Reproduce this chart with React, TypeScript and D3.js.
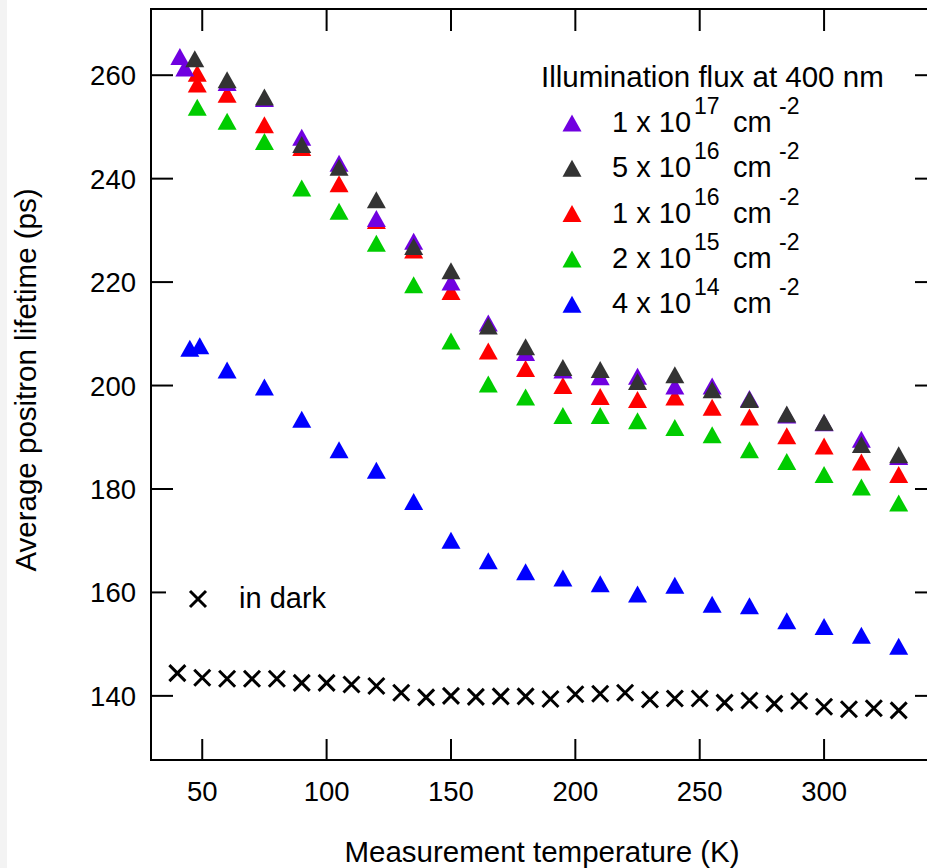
import React from 'react';
import * as d3 from 'd3';

// temperatures (K) shared by most illuminated series
const tStep = [60, 75, 90, 105, 120, 135, 150, 165, 180, 195, 210, 225, 240, 255, 270, 285, 300, 315, 330];

const purpleTemps = [41, 43, ...tStep];
const purpleVals = [263.6, 261.4, 258.6, 255.5, 248.0, 243.0, 232.3, 227.9, 220.0, 212.1, 206.4, 203.0, 201.7, 201.8, 199.9, 199.9, 197.5, 194.3, 192.8, 189.6, 186.3];

const blackTemps = [47, ...tStep];
const blackVals = [263.2, 259.1, 255.8, 246.6, 242.2, 235.9, 226.9, 222.2, 211.5, 207.5, 203.5, 203.1, 200.8, 202.1, 199.2, 197.3, 194.5, 192.9, 188.6, 186.6];

const redTemps = [48, 48, ...tStep];
const redVals = [260.4, 258.3, 256.3, 250.4, 246.0, 239.0, 231.9, 226.2, 218.2, 206.7, 203.3, 200.0, 197.9, 197.3, 197.8, 195.8, 193.9, 190.3, 188.3, 185.2, 182.8];

const greenTemps = [48, ...tStep];
const greenVals = [253.8, 251.1, 247.2, 238.2, 233.7, 227.5, 219.5, 208.6, 200.3, 197.8, 194.2, 194.2, 193.2, 191.9, 190.5, 187.6, 185.3, 182.8, 180.4, 177.3];

const blueTemps = [45, 49, ...tStep];
const blueVals = [207.2, 207.7, 203.0, 199.7, 193.5, 187.6, 183.6, 177.6, 170.1, 166.1, 164.0, 162.8, 161.7, 159.7, 161.4, 157.7, 157.4, 154.5, 153.4, 151.7, 149.6];

const darkTemps = [40, 50, 60, 70, 80, 90, 100, 110, 120, 130, 140, 150, 160, 170, 180, 190, 200, 210, 220, 230, 240, 250, 260, 270, 280, 290, 300, 310, 320, 330];
const darkVals = [144.4, 143.5, 143.3, 143.3, 143.3, 142.5, 142.5, 142.2, 141.9, 140.6, 139.7, 140.0, 139.8, 139.9, 139.9, 139.4, 140.3, 140.4, 140.6, 139.3, 139.5, 139.5, 138.7, 139.1, 138.5, 139.0, 137.9, 137.4, 137.6, 137.2];

// legend entries (in legend order)
const fluxMantissa = ['1', '5', '1', '2', '4'];
const fluxExponent = ['17', '16', '16', '15', '14'];
const fluxColors = ['#7000e0', '#333333', '#ff0000', '#00cc00', '#0000ff'];

const xTicks = [50, 100, 150, 200, 250, 300];
const yTicks = [140, 160, 180, 200, 220, 240, 260];

const W = 927;
const H = 868;
const font = '"Liberation Sans", Arial, sans-serif';

const tri = 'M0,-8.5L9.5,8.5L-9.5,8.5Z';

export default function App() {
  const x = d3.scaleLinear().domain([29.4, 345.4]).range([151, 937]);
  const y = d3.scaleLinear().domain([127.6, 272.8]).range([760, 9]);
  const [x0, x1] = x.range();
  const [y0, y1] = y.range();

  // drawing order: later on top
  const series = [
    { t: blueTemps, v: blueVals, c: fluxColors[4] },
    { t: greenTemps, v: greenVals, c: fluxColors[3] },
    { t: redTemps, v: redVals, c: fluxColors[2] },
    { t: purpleTemps, v: purpleVals, c: fluxColors[0] },
    { t: blackTemps, v: blackVals, c: fluxColors[1] },
  ];

  const cross = (cx: number, cy: number, key: string | number) => (
    <path key={key} d={`M${cx - 8},${cy - 8}L${cx + 8},${cy + 8}M${cx - 8},${cy + 8}L${cx + 8},${cy - 8}`}
      stroke="#000" strokeWidth={3} fill="none" />
  );

  return (
    <svg width={W} height={H} style={{ position: 'absolute', left: 0, top: 0, background: '#fff' }}
      fontFamily={font}>
      <rect x={0} y={0} width={7} height={H} fill="#f3f3f3" />

      {/* ticks */}
      {xTicks.map((t) => (
        <g key={'xt' + t}>
          <line x1={x(t)} x2={x(t)} y1={y0} y2={y0 - 21} stroke="#000" strokeWidth={2} />
          <line x1={x(t)} x2={x(t)} y1={y1} y2={y1 + 22} stroke="#000" strokeWidth={2} />
          <text x={x(t)} y={801} fontSize={27.5} textAnchor="middle">{t}</text>
        </g>
      ))}
      {yTicks.map((t) => (
        <g key={'yt' + t}>
          <line x1={x0} x2={x0 + 22} y1={y(t)} y2={y(t)} stroke="#000" strokeWidth={2} />
          <line x1={x1} x2={x1 - 22} y1={y(t)} y2={y(t)} stroke="#000" strokeWidth={2} />
          <text x={136} y={y(t) + 10} fontSize={27.5} textAnchor="end">{t}</text>
        </g>
      ))}

      {/* frame */}
      <rect x={x0} y={y1} width={x1 - x0} height={y0 - y1} fill="none" stroke="#000" strokeWidth={2} />

      {/* axis titles */}
      <text x={542} y={862} fontSize={29.5} textAnchor="middle">Measurement temperature (K)</text>
      <text transform={`translate(36,380) rotate(-90)`} fontSize={29.5} textAnchor="middle">
        Average positron lifetime (ps)
      </text>

      {/* dark legend */}
      <rect x={166} y={578} width={178} height={42} fill="#fff" />
      {cross(198, 599, 'lgx')}
      <text x={239} y={608} fontSize={29}>in dark</text>

      {/* data */}
      {darkTemps.map((t, i) => cross(x(t), y(darkVals[i]), 'd' + i))}
      {series.map((s, si) => (
        <g key={'s' + si} fill={s.c}>
          {s.t.map((t, i) => (
            <path key={i} d={tri} transform={`translate(${x(t)},${y(s.v[i])})`} />
          ))}
        </g>
      ))}

      {/* flux legend */}
      <text x={541} y={87} fontSize={29.5}>Illumination flux at 400 nm</text>
      {fluxMantissa.map((m, i) => {
        const cy = 123 + i * 45.3;
        return (
          <g key={'lg' + i}>
            <path d={tri} fill={fluxColors[i]} transform={`translate(572,${cy})`} />
            <text y={cy + 9} fontSize={29}>
              <tspan x={612}>{m} x 10</tspan>
              <tspan x={694} dy={-18} fontSize={23}>{fluxExponent[i]}</tspan>
              <tspan x={733} dy={18}>cm</tspan>
              <tspan x={779} dy={-18} fontSize={23}>-2</tspan>
            </text>
          </g>
        );
      })}
    </svg>
  );
}
